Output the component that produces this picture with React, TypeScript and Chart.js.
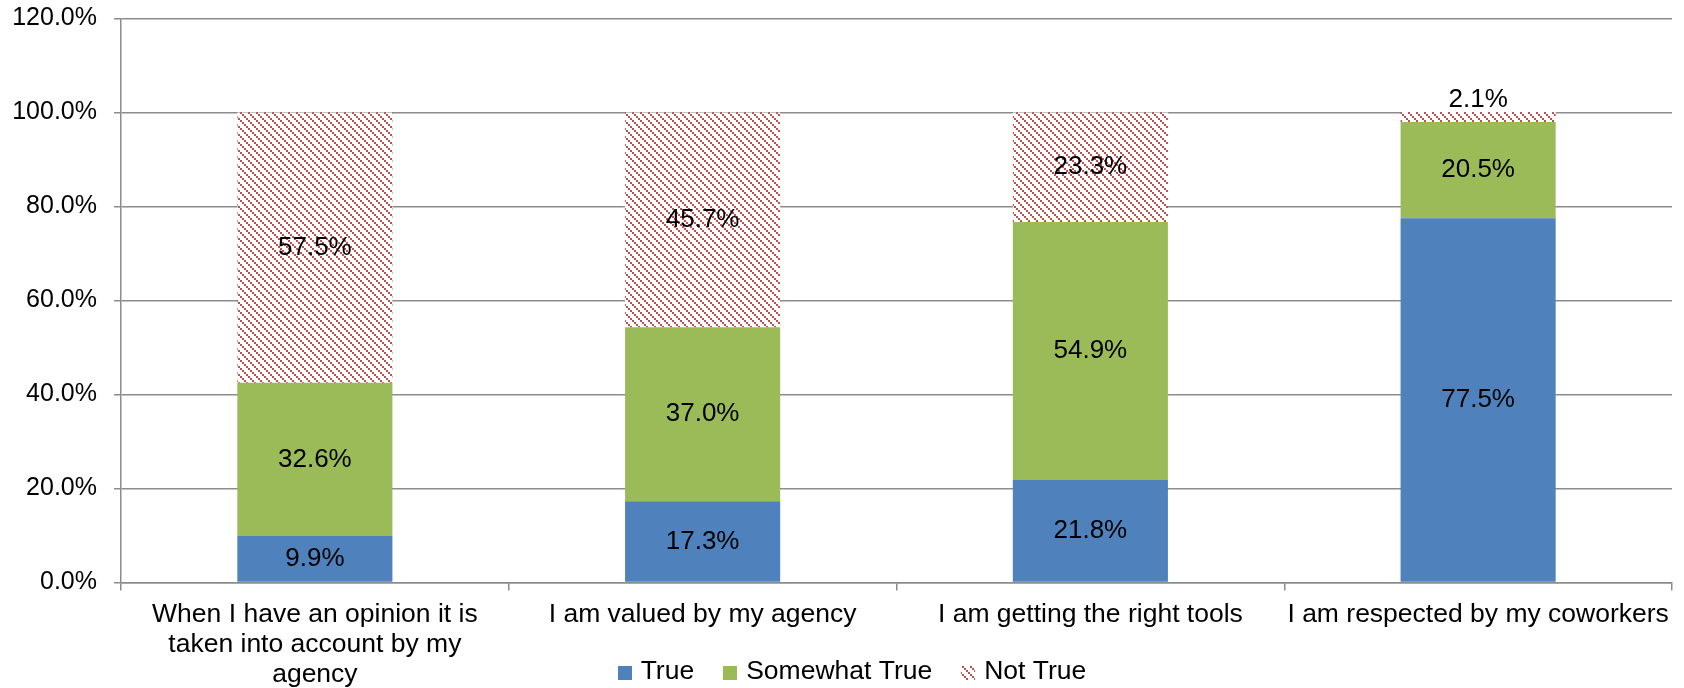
import React, { useEffect, useRef } from 'react';
import { Chart, registerables } from 'chart.js';

Chart.register(...registerables);

const categories: (string | string[])[] = [
  ['When I have an opinion it is', 'taken into account by my', 'agency'],
  'I am valued by my agency',
  'I am getting the right tools',
  'I am respected by my coworkers',
];
const seriesNames = ['True', 'Somewhat True', 'Not True'];
const trueValues = [9.9, 17.3, 21.8, 77.5];
const somewhatTrueValues = [32.6, 37.0, 54.9, 20.5];
const notTrueValues = [57.5, 45.7, 23.3, 2.1];
const yMin = 0;
const yMax = 120;
const yStep = 20;

const FONT = 'Arial, "Liberation Sans", sans-serif';
const BLUE = '#4F81BD';
const GREEN = '#9BBB59';
const RED = '#C0504D';
const GRID = '#8C8C8C';

function makeHatch(): CanvasPattern | string {
  const c = document.createElement('canvas');
  c.width = 8;
  c.height = 8;
  const g = c.getContext('2d');
  if (!g) return RED;
  g.fillStyle = '#FFFFFF';
  g.fillRect(0, 0, 8, 8);
  g.fillStyle = RED;
  for (let i = 0; i < 8; i += 2) {
    g.fillRect(i, i, 2, 2);
  }
  const p = g.createPattern(c, 'repeat');
  return p || RED;
}

const labelPlugin = {
  id: 'segLabels',
  afterDatasetsDraw(chart: any) {
    const ctx = chart.ctx as CanvasRenderingContext2D;
    ctx.save();
    ctx.font = `26px ${FONT}`;
    ctx.fillStyle = '#000000';
    ctx.textAlign = 'center';
    ctx.textBaseline = 'middle';
    chart.data.datasets.forEach((ds: any, di: number) => {
      const meta = chart.getDatasetMeta(di);
      meta.data.forEach((el: any, i: number) => {
        const v = ds.data[i] as number;
        const { x, y, base } = el.getProps(['x', 'y', 'base'], true);
        const h = Math.abs(base - y);
        const cy = h < 26 ? Math.min(y, base) - 12 : (y + base) / 2;
        ctx.fillText(v.toFixed(1) + '%', x, cy);
      });
    });
    ctx.restore();
  },
};

const legendPlugin = {
  id: 'bottomLegend',
  afterDraw(chart: any) {
    const ctx = chart.ctx as CanvasRenderingContext2D;
    const box = 14;
    const textGap = 9;
    const itemGap = 29;
    const centerX = 852;
    const midY = 673;
    ctx.save();
    ctx.font = `26.5px ${FONT}`;
    ctx.textBaseline = 'middle';
    ctx.textAlign = 'left';
    const items = chart.data.datasets.map((ds: any) => ({
      label: ds.label as string,
      fill: ds.backgroundColor,
      w: box + textGap + ctx.measureText(ds.label).width,
    }));
    const total = items.reduce((s: number, it: any) => s + it.w, 0) + itemGap * (items.length - 1);
    let x = centerX - total / 2;
    items.forEach((it: any) => {
      ctx.fillStyle = it.fill;
      ctx.fillRect(Math.round(x), midY - box / 2, box, box);
      ctx.fillStyle = '#000000';
      ctx.fillText(it.label, x + box + textGap, midY - 1);
      x += it.w + itemGap;
    });
    ctx.restore();
  },
};

export default function App() {
  const ref = useRef<HTMLCanvasElement | null>(null);
  useEffect(() => {
    if (!ref.current) return;
    const hatch = makeHatch();
    const chart = new Chart(ref.current, {
      type: 'bar',
      data: {
        labels: categories,
        datasets: [
          { label: seriesNames[0], data: trueValues, backgroundColor: BLUE, borderWidth: 0 },
          { label: seriesNames[1], data: somewhatTrueValues, backgroundColor: GREEN, borderWidth: 0 },
          { label: seriesNames[2], data: notTrueValues, backgroundColor: hatch as any, borderWidth: 0 },
        ],
      },
      options: {
        responsive: false,
        animation: false,
        layout: { padding: { left: 0, right: 12, top: 18.5, bottom: 0 } },
        datasets: { bar: { barPercentage: 0.4, categoryPercentage: 1 } },
        scales: {
          x: {
            stacked: true,
            grid: {
              display: true,
              drawOnChartArea: false,
              drawTicks: true,
              tickLength: 8,
              offset: true,
              color: GRID,
              lineWidth: 1.5,
            },
            border: { display: true, color: GRID, width: 1.5 },
            ticks: {
              color: '#000000',
              font: { family: FONT, size: 26.5, lineHeight: 1.13 },
              maxRotation: 0,
              autoSkip: false,
              padding: 9,
            },
            afterFit: (s: any) => {
              s.height = 105.5;
              s.paddingLeft = 0;
              s.paddingRight = 0;
            },
          },
          y: {
            stacked: true,
            min: yMin,
            max: yMax,
            grid: {
              color: GRID,
              lineWidth: 1.5,
              drawTicks: true,
              tickLength: 7,
            },
            border: { display: true, color: GRID, width: 1.5 },
            ticks: {
              stepSize: yStep,
              color: '#000000',
              font: { family: FONT, size: 25 },
              padding: 17,
              callback: (v: any) => Number(v).toFixed(1) + '%',
            },
            afterFit: (s: any) => {
              s.width = 121;
              s.paddingTop = 0;
              s.paddingBottom = 0;
            },
          },
        },
        plugins: {
          legend: { display: false },
          tooltip: { enabled: false },
          title: { display: false },
        },
      },
      plugins: [labelPlugin, legendPlugin],
    });
    return () => chart.destroy();
  }, []);
  return (
    <div style={{ position: 'absolute', left: 0, top: 0, width: 1684, height: 688, background: '#fff' }}>
      <canvas ref={ref} width={1684} height={688} />
    </div>
  );
}
